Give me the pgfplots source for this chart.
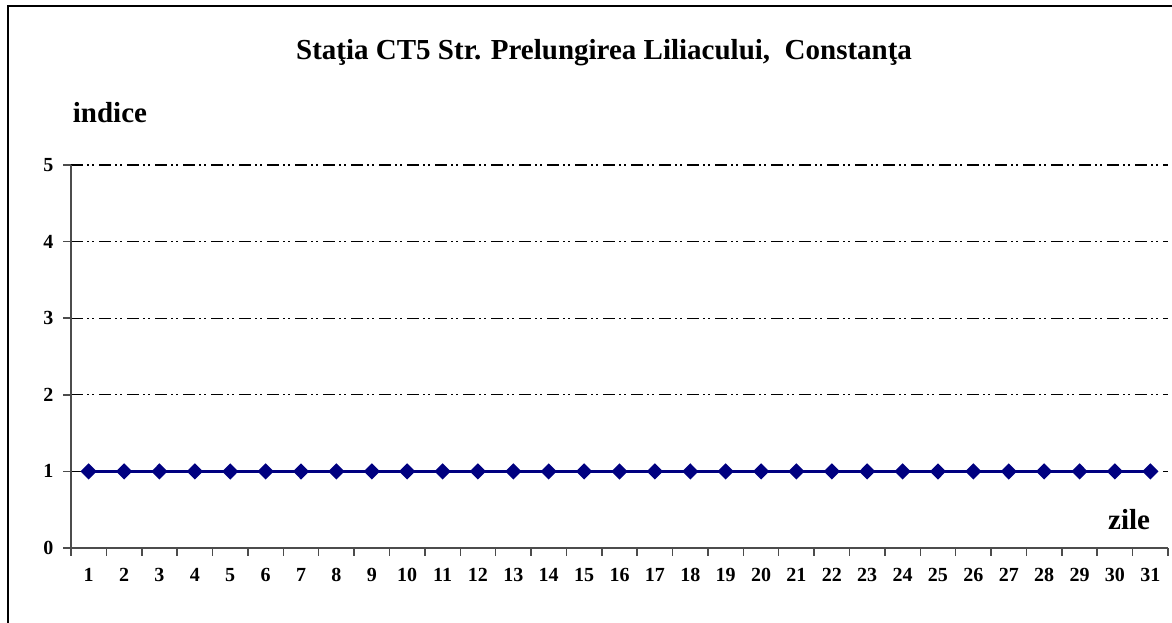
\documentclass[border=0pt]{standalone}
\usepackage{pgfplots}
\pgfplotsset{compat=1.18}
\usepackage{fontspec}
\setmainfont{Liberation Serif}
\definecolor{navy}{RGB}{0,0,128}
\begin{document}
\begin{tikzpicture}[x=1pt,y=1pt]
\path[use as bounding box] (0,0) rectangle (1172,623);
\draw[line width=2pt] (8,0) -- (8,617) -- (1172,617);
\begin{axis}[
  at={(71pt,75pt)}, anchor=south west,
  scale only axis, width=1097pt, height=383pt,
  xmin=0.5, xmax=31.5, ymin=0, ymax=5,
  axis lines*=left,
  axis line style={black!70, line width=1.5pt},
  xtick={1,...,31}, ytick={0,...,5},
  minor xtick={0.5,1.5,...,31.5}, minor ytick={0,...,5},
  major tick length=0pt, minor tick length=8pt,
  tick align=outside,
  minor tick style={black!70, line width=1.5pt},
  ymajorgrids,
  major grid style={black, line width=1.1pt, dash pattern=on 12pt off 4pt on 2pt off 3pt on 2pt off 5pt},
  /pgf/number format/assume math mode=true,
  ticklabel style={font=\fontsize{20}{23}\selectfont\bfseries},
  xticklabel style={yshift=-17pt},
  yticklabel style={xshift=-14pt},
  clip=false,
]
\addplot[navy, line width=3pt, mark=diamond*, mark size=6pt, mark options={xscale=1.33}] coordinates {
(1,1) (2,1) (3,1) (4,1) (5,1) (6,1) (7,1) (8,1) (9,1) (10,1)
(11,1) (12,1) (13,1) (14,1) (15,1) (16,1) (17,1) (18,1) (19,1) (20,1)
(21,1) (22,1) (23,1) (24,1) (25,1) (26,1) (27,1) (28,1) (29,1) (30,1) (31,1)
};
\end{axis}
\node[anchor=base west, inner sep=0pt, font=\fontsize{29}{34}\selectfont\bfseries] at (296,563) {Staţia CT5 Str. Prelungirea Liliacului,\ \ Constanţa};
\node[anchor=base west, inner sep=0pt, font=\fontsize{29}{34}\selectfont\bfseries] at (72.7,500.3) {indice};
\node[anchor=base west, inner sep=0pt, font=\fontsize{29}{34}\selectfont\bfseries] at (1108,93) {zile};
\end{tikzpicture}
\end{document}
